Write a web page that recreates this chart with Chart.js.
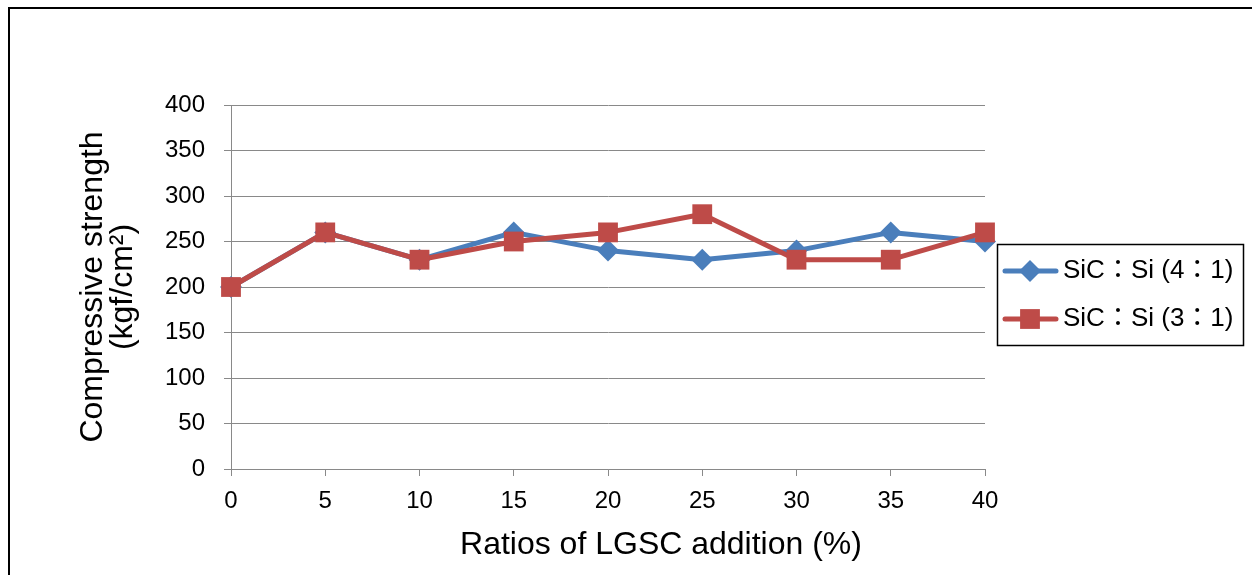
<!DOCTYPE html>
<html>
<head>
<meta charset="utf-8">
<script src="https://cdn.jsdelivr.net/npm/chart.js@4/dist/chart.umd.min.js"></script>
<style>
    body { margin: 0; background: #fff; }
    #moldura {
        position: absolute; left: 8px; top: 7px; width: 1400px; height: 700px;
        border-left: 2px solid #000; border-top: 2px solid #000;
    }
    #grafico { position: absolute; left: 0; top: 0; }
</style>
</head>
<body>
<div id="moldura"></div>
<canvas id="grafico" width="1252" height="575"></canvas>
<script>
// Dados do gráfico
const ratios = ['0', '5', '10', '15', '20', '25', '30', '35', '40'];
const sic41 = [200, 260, 230, 260, 240, 230, 240, 260, 250];
const sic31 = [200, 260, 230, 250, 260, 280, 230, 230, 260];
const seriesNames = ['SiC：Si (4：1)', 'SiC：Si (3：1)'];
const yMin = 0, yMax = 400, yStep = 50;
const xTitle = 'Ratios of LGSC addition (%)';
const yTitle = ['Compressive strength', '(kgf/cm²)'];

const FONT = '"Liberation Sans", Arial, "Noto Sans CJK TC", sans-serif';
const GRID = '#898989';

// Legenda e título do eixo X desenhados à mão
const legendaPlugin = {
    id: 'legendaPlugin',
    afterDraw(chart) {
        const ctx = chart.ctx;
        ctx.save();
        ctx.strokeStyle = '#000';
        ctx.lineWidth = 1.5;
        ctx.strokeRect(997.5, 244.5, 246, 101);

        chart.data.datasets.forEach((ds, i) => {
            const y = 271 + i * 48;
            ctx.strokeStyle = ds.borderColor;
            ctx.lineWidth = ds.borderWidth;
            ctx.lineCap = 'round';
            ctx.beginPath();
            ctx.moveTo(1005, y);
            ctx.lineTo(1056, y);
            ctx.stroke();

            ctx.fillStyle = ds.pointBackgroundColor;
            ctx.beginPath();
            if (ds.pointStyle === 'rectRot') {
                const r = ds.pointRadius;
                ctx.moveTo(1030, y - r);
                ctx.lineTo(1030 + r, y);
                ctx.lineTo(1030, y + r);
                ctx.lineTo(1030 - r, y);
                ctx.closePath();
            } else {
                const h = ds.pointRadius * Math.SQRT1_2;
                ctx.rect(1030 - h, y - h, 2 * h, 2 * h);
            }
            ctx.fill();

            ctx.fillStyle = '#000';
            ctx.font = '26px ' + FONT;
            ctx.textBaseline = 'middle';
            ctx.textAlign = 'left';
            ctx.fillText(ds.label, 1063, y);
        });

        ctx.font = '32px ' + FONT;
        ctx.textAlign = 'center';
        ctx.textBaseline = 'alphabetic';
        ctx.fillText(xTitle, 661, 554);
        ctx.restore();
    }
};

new Chart(document.getElementById('grafico'), {
    type: 'line',
    data: {
        labels: ratios,
        datasets: [{
            label: seriesNames[0],
            data: sic41,
            order: 1,
            borderColor: '#4A7EBB',
            backgroundColor: '#4A7EBB',
            pointBackgroundColor: '#4A7EBB',
            pointBorderWidth: 0,
            borderWidth: 5,
            pointStyle: 'rectRot',
            pointRadius: 11,
            borderCapStyle: 'round',
            borderJoinStyle: 'round',
            tension: 0
        }, {
            label: seriesNames[1],
            data: sic31,
            order: 0,
            borderColor: '#BE4B48',
            backgroundColor: '#BE4B48',
            pointBackgroundColor: '#BE4B48',
            pointBorderWidth: 0,
            borderWidth: 5,
            pointStyle: 'rect',
            pointRadius: 14,
            borderCapStyle: 'round',
            borderJoinStyle: 'round',
            tension: 0
        }]
    },
    options: {
        responsive: false,
        animation: false,
        devicePixelRatio: 1,
        layout: { padding: { left: 0, top: 105, right: 267, bottom: 0 } },
        plugins: {
            legend: { display: false },
            tooltip: { enabled: false }
        },
        scales: {
            x: {
                afterFit: function(scale) { scale.height = 106; },
                grid: { drawOnChartArea: false, drawTicks: true, tickLength: 7, color: GRID },
                border: { display: true, color: GRID, width: 1 },
                ticks: { color: '#000', padding: 11, maxRotation: 0, font: { family: FONT, size: 24 } }
            },
            y: {
                min: yMin,
                max: yMax,
                afterFit: function(scale) { scale.width = 231; },
                grid: { drawTicks: true, tickLength: 7, color: GRID },
                border: { display: true, color: GRID, width: 1 },
                ticks: { stepSize: yStep, color: '#000', padding: 19, font: { family: FONT, size: 24 } },
                title: {
                    display: true,
                    text: yTitle,
                    color: '#000',
                    padding: { top: 78, bottom: 0 },
                    font: { family: FONT, size: 32, lineHeight: 0.95 }
                }
            }
        }
    },
    plugins: [legendaPlugin]
});
</script>
</body>
</html>
